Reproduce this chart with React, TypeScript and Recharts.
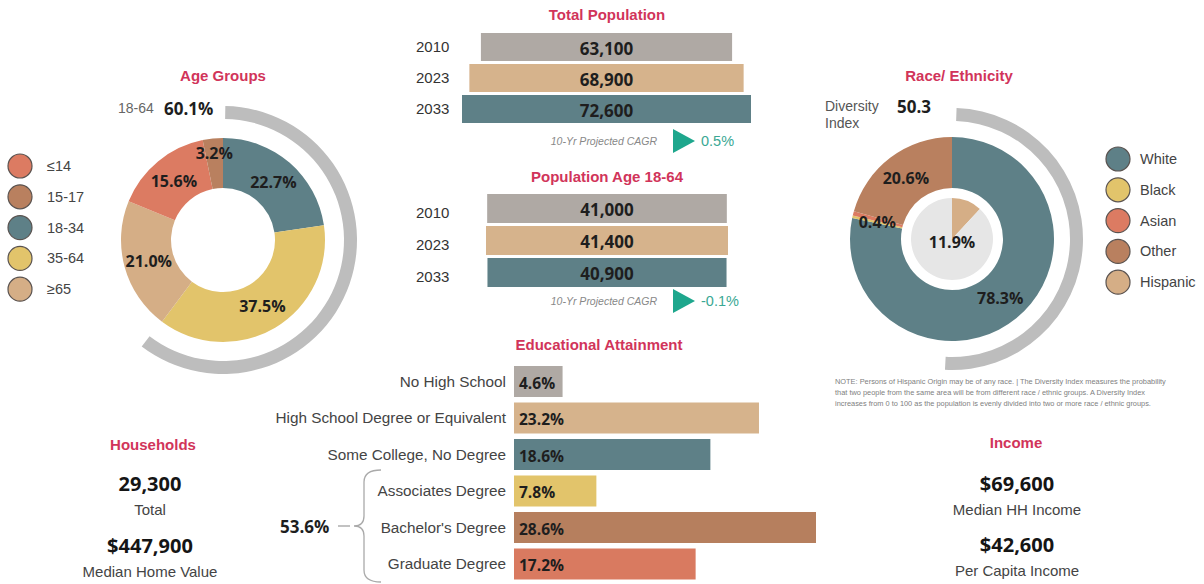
import React from "react";
import { PieChart, Pie, Cell, BarChart, Bar, XAxis, YAxis, LabelList } from "recharts";

// ---- data ----
const ageGroups = ["18-34", "35-64", "≥65", "≤14", "15-17"];
const ageShares = [22.7, 37.5, 21.0, 15.6, 3.2];
const ageLegend = ["≤14", "15-17", "18-34", "35-64", "≥65"];
const workingAgeShare = 60.1;

const raceGroups = ["White", "Black", "Asian", "Other"];
const raceShares = [78.3, 0.4, 0.7, 20.6];
const raceHiddenLabels = ["Asian"];
const hispanicShare = 11.9;
const diversityIndex = 50.3;
const raceLegend = ["White", "Black", "Asian", "Other", "Hispanic"];

const popYears = ["2010", "2023", "2033"];
const totalPop = [63100, 68900, 72600];
const workingPop = [41000, 41400, 40900];
const totalCagr = "0.5%";
const workingCagr = "-0.1%";

const eduLevels = [
  "No High School",
  "High School Degree or Equivalent",
  "Some College, No Degree",
  "Associates Degree",
  "Bachelor's Degree",
  "Graduate Degree",
];
const eduShares = [4.6, 23.2, 18.6, 7.8, 28.6, 17.2];
const degreeShare = "53.6%";

const households = "29,300";
const medianHomeValue = "$447,900";
const medianHHIncome = "$69,600";
const perCapitaIncome = "$42,600";

const noteLines = [
  "NOTE: Persons of Hispanic Origin may be of any race. | The Diversity Index measures the probability",
  "that two people from the same area will be from different race / ethnic groups. A Diversity Index",
  "increases from 0 to 100 as the population is evenly divided into two or more race / ethnic groups.",
];

// ---- styles ----
const SANS = "'Liberation Sans', Arial, sans-serif";
const NUM = "'Open Sans', sans-serif";
const TITLE = "#d1345a";

const teal = "#5e8087";
const yellow = "#e2c46b";
const tan = "#d5ae86";
const salmon = "#dc7b62";
const brown = "#b9805f";
const stone = "#afa9a4";
const arcGray = "#bdbdbd";

const ageColor: Record<string, string> = { "≤14": salmon, "15-17": brown, "18-34": teal, "35-64": yellow, "≥65": tan };
const raceColor: Record<string, string> = { White: teal, Black: yellow, Asian: salmon, Other: brown, Hispanic: tan };
const yearColor = [stone, "#d6b38c", teal];
const eduColor = [stone, "#d6b38c", teal, yellow, "#b67f5e", "#d97a60"];

const RAD = Math.PI / 180;

const pctLabel = (factor: (v: number) => number, hidden: string[] = []) => (p: any) => {
  const { cx, cy, midAngle, innerRadius, outerRadius, value, name } = p;
  if (hidden.includes(name)) return null;
  const r = innerRadius + (outerRadius - innerRadius) * factor(value);
  const x = cx + r * Math.cos(-midAngle * RAD);
  const y = cy + r * Math.sin(-midAngle * RAD);
  return (
    <text x={x} y={y} textAnchor="middle" dominantBaseline="central" fontFamily={NUM} fontWeight={700} fontSize={16} fill="#1e1e1e">
      {Number(value).toFixed(1)}%
    </text>
  );
};

function AgeDonut() {
  const data = ageGroups.map((group, i) => ({ group, share: ageShares[i] }));
  const arc = [
    { part: "18-64", share: workingAgeShare },
    { part: "rest", share: 100 - workingAgeShare },
  ];
  return (
    <div style={{ position: "absolute", left: 0, top: 0 }}>
      <PieChart width={400} height={380}>
        <Pie data={arc} dataKey="share" nameKey="part" cx={218} cy={235} innerRadius={121} outerRadius={134}
          startAngle={89} endAngle={-271} stroke="none" isAnimationActive={false}>
          <Cell fill={arcGray} />
          <Cell fill="transparent" />
        </Pie>
        <Pie data={data} dataKey="share" nameKey="group" cx={218} cy={235} innerRadius={52} outerRadius={102}
          startAngle={90} endAngle={-270} stroke="none" labelLine={false}
          label={pctLabel((v) => (v < 5 ? 0.7 : 0.5))} isAnimationActive={false}>
          {data.map((d) => <Cell key={d.group} fill={ageColor[d.group]} />)}
        </Pie>
      </PieChart>
    </div>
  );
}

function RaceDonut() {
  const data = raceGroups.map((group, i) => ({ group, share: raceShares[i] }));
  const hispanic = [
    { group: "Hispanic", share: hispanicShare },
    { group: "Non-Hispanic", share: 100 - hispanicShare },
  ];
  const arc = [
    { part: "Diversity", share: diversityIndex },
    { part: "rest", share: 100 - diversityIndex },
  ];
  const L = 780;
  return (
    <div style={{ position: "absolute", left: L, top: 0 }}>
      <PieChart width={320} height={380}>
        <Pie data={arc} dataKey="share" nameKey="part" cx={947 - L} cy={234} innerRadius={118} outerRadius={131}
          startAngle={88} endAngle={-272} stroke="none" isAnimationActive={false}>
          <Cell fill={arcGray} />
          <Cell fill="transparent" />
        </Pie>
        <Pie data={data} dataKey="share" nameKey="group" cx={947 - L} cy={234} innerRadius={51} outerRadius={102}
          startAngle={90} endAngle={-270} stroke="none" labelLine={false}
          label={pctLabel(() => 0.5, raceHiddenLabels)} isAnimationActive={false}>
          {data.map((d) => <Cell key={d.group} fill={raceColor[d.group]} />)}
        </Pie>
        <Pie data={hispanic} dataKey="share" nameKey="group" cx={947 - L} cy={234} innerRadius={0} outerRadius={41}
          startAngle={90} endAngle={-270} stroke="none" labelLine={false}
          label={(p: any) =>
            p.index === 0 ? (
              <text x={p.cx} y={p.cy + 3} textAnchor="middle" dominantBaseline="central" fontFamily={NUM} fontWeight={700} fontSize={16} fill="#1e1e1e">
                {Number(p.value).toFixed(1)}%
              </text>
            ) : null
          }
          isAnimationActive={false}>
          <Cell fill={tan} />
          <Cell fill="#e6e6e6" />
        </Pie>
      </PieChart>
    </div>
  );
}

// horizontally centred bars: a transparent spacer is stacked before each bar
function CenteredBars({ values, left, top, width, height, margin, barSize, tickDy }: any) {
  const max = Math.max(...values);
  const data = popYears.map((year, i) => ({ year, value: values[i], pad: (max - values[i]) / 2 }));
  return (
    <div style={{ position: "absolute", left, top }}>
      <BarChart width={width} height={height} data={data} layout="vertical" margin={margin}>
        <XAxis type="number" hide domain={[0, max]} />
        <YAxis type="category" dataKey="year" width={40} axisLine={false} tickLine={false}
          tick={(t: any) => (
            <text x={16} y={t.y + tickDy} textAnchor="start" dominantBaseline="central" fontFamily={SANS} fontSize={15} fill="#333">
              {t.payload.value}
            </text>
          )} />
        <Bar dataKey="pad" stackId="s" fill="transparent" barSize={barSize} isAnimationActive={false} />
        <Bar dataKey="value" stackId="s" barSize={barSize} isAnimationActive={false}>
          {data.map((d, i) => <Cell key={d.year} fill={yearColor[i]} />)}
          <LabelList dataKey="value" content={(p: any) => (
            <text x={p.x + p.width / 2} y={p.y + p.height / 2 + 1} textAnchor="middle" dominantBaseline="central"
              fontFamily={NUM} fontWeight={700} fontSize={17} fill="#1e1e1e">
              {Number(p.value).toLocaleString("en-US")}
            </text>
          )} />
        </Bar>
      </BarChart>
    </div>
  );
}

function EducationBars() {
  const data = eduLevels.map((level, i) => ({ level, share: eduShares[i] }));
  return (
    <div style={{ position: "absolute", left: 260, top: 330 }}>
      <BarChart width={570} height={254} data={data} layout="vertical" margin={{ top: 33, right: 14, bottom: 2, left: 214 }}>
        <XAxis type="number" hide domain={[0, "dataMax"]} />
        <YAxis type="category" dataKey="level" width={40} axisLine={false} tickLine={false}
          tick={(t: any) => (
            <text x={246} y={t.y} textAnchor="end" dominantBaseline="central" fontFamily={SANS} fontSize={15.3} fill="#444">
              {t.payload.value}
            </text>
          )} />
        <Bar dataKey="share" barSize={31} isAnimationActive={false}>
          {data.map((d, i) => <Cell key={d.level} fill={eduColor[i]} />)}
          <LabelList dataKey="share" content={(p: any) => (
            <text x={p.x + 5} y={p.y + p.height / 2 + 1} textAnchor="start" dominantBaseline="central"
              fontFamily={NUM} fontWeight={700} fontSize={15.5} fill="#1e1e1e">
              {Number(p.value).toFixed(1)}%
            </text>
          )} />
        </Bar>
      </BarChart>
    </div>
  );
}

const Title = ({ x, y, children }: any) => (
  <text x={x} y={y} textAnchor="middle" dominantBaseline="central" fontFamily={SANS} fontWeight={700} fontSize={15} fill={TITLE}>
    {children}
  </text>
);

const Cagr = ({ y, value }: any) => (
  <g>
    <text x={657} y={y} textAnchor="end" dominantBaseline="central" fontFamily={SANS} fontStyle="italic" fontSize={10.5} fill="#888">
      10-Yr Projected CAGR
    </text>
    <polygon points={`673,${y - 12} 673,${y + 12} 695,${y}`} fill="#1ea78d" />
    <text x={701} y={y} textAnchor="start" dominantBaseline="central" fontFamily={SANS} fontSize={14.5} fill="#3aa894">
      {value}
    </text>
  </g>
);

function Overlay() {
  const stat = (x: number, y: number, big: string, small: string) => (
    <g>
      <text x={x} y={y} textAnchor="middle" dominantBaseline="central" fontFamily={NUM} fontWeight={700} fontSize={20} fill="#151515">{big}</text>
      <text x={x} y={y + 26} textAnchor="middle" dominantBaseline="central" fontFamily={SANS} fontSize={15} fill="#444">{small}</text>
    </g>
  );
  return (
    <svg width={1204} height={584} style={{ position: "absolute", left: 0, top: 0, pointerEvents: "none" }}>
      <Title x={223} y={75}>Age Groups</Title>
      <Title x={607} y={14}>Total Population</Title>
      <Title x={607} y={176}>Population Age 18-64</Title>
      <Title x={959} y={75}>Race/ Ethnicity</Title>
      <Title x={599} y={344}>Educational Attainment</Title>
      <Title x={153} y={444}>Households</Title>
      <Title x={1016} y={442}>Income</Title>

      {ageLegend.map((g, i) => (
        <g key={g}>
          <circle cx={20} cy={166 + i * 30.8} r={12} fill={ageColor[g]} stroke="#5a5350" strokeWidth={1.2} />
          <text x={47} y={166 + i * 30.8} dominantBaseline="central" fontFamily={SANS} fontSize={14.5} fill="#444">{g}</text>
        </g>
      ))}
      <text x={118} y={108} dominantBaseline="central" fontFamily={SANS} fontSize={14} fill="#666">18-64</text>
      <text x={164} y={108} dominantBaseline="central" fontFamily={NUM} fontWeight={700} fontSize={17} fill="#1e1e1e">{workingAgeShare.toFixed(1)}%</text>

      {raceLegend.map((g, i) => (
        <g key={g}>
          <circle cx={1118} cy={159 + i * 30.8} r={12} fill={raceColor[g]} stroke="#5a5350" strokeWidth={1.2} />
          <text x={1140} y={159 + i * 30.8} dominantBaseline="central" fontFamily={SANS} fontSize={14.5} fill="#444">{g}</text>
        </g>
      ))}
      <text x={825} y={106} dominantBaseline="central" fontFamily={SANS} fontSize={14} fill="#555">Diversity</text>
      <text x={825} y={123} dominantBaseline="central" fontFamily={SANS} fontSize={14} fill="#555">Index</text>
      <text x={897} y={106} dominantBaseline="central" fontFamily={NUM} fontWeight={700} fontSize={17} fill="#1e1e1e">{diversityIndex.toFixed(1)}</text>

      {noteLines.map((l, i) => (
        <text key={i} x={835} y={381 + i * 11} dominantBaseline="central" fontFamily={SANS} fontSize={7.4} fill="#808080">{l}</text>
      ))}

      <Cagr y={141} value={totalCagr} />
      <Cagr y={301} value={workingCagr} />

      <text x={280} y={526} dominantBaseline="central" fontFamily={NUM} fontWeight={700} fontSize={17} fill="#1e1e1e">{degreeShare}</text>
      <line x1={338} y1={526} x2={350} y2={526} stroke="#999" strokeWidth={1.2} />
      <path d="M381,470 Q364,470 364,482 L364,516 Q364,526 354,526 Q364,526 364,536 L364,570 Q364,582 381,582"
        fill="none" stroke="#aaa" strokeWidth={1.3} />

      {stat(150, 483, households, "Total")}
      {stat(150, 545, medianHomeValue, "Median Home Value")}
      {stat(1017, 483, medianHHIncome, "Median HH Income")}
      {stat(1017, 544, perCapitaIncome, "Per Capita Income")}
    </svg>
  );
}

export default function App() {
  return (
    <div style={{ position: "absolute", left: 0, top: 0, width: 1204, height: 584, background: "#fff", overflow: "hidden" }}>
      <AgeDonut />
      <RaceDonut />
      <CenteredBars values={totalPop} left={400} top={0} width={360} height={160}
        margin={{ top: 31, right: 9, bottom: 36, left: 22 }} barSize={28} tickDy={0} />
      <CenteredBars values={workingPop} left={400} top={160} width={360} height={160}
        margin={{ top: 32, right: 32, bottom: 32, left: 46 }} barSize={29} tickDy={4} />
      <EducationBars />
      <Overlay />
    </div>
  );
}
